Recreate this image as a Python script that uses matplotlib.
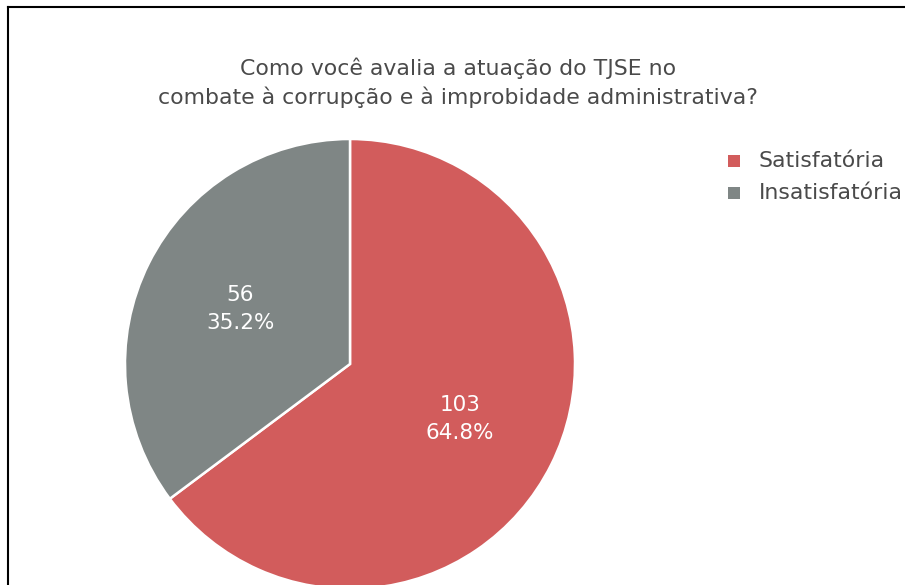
import matplotlib
matplotlib.use("Agg")
import matplotlib.pyplot as plt
from matplotlib.patches import Rectangle
from matplotlib.lines import Line2D

plt.rcParams['font.family'] = ['DejaVu Sans']

categories = ["Satisfatória", "Insatisfatória"]
counts = [103, 56]
colors = ["#d25c5c", "#7f8685"]
title = "Como você avalia a atuação do TJSE no\ncombate à corrupção e à improbidade administrativa?"

W, H = 905, 585
fig = plt.figure(figsize=(W / 100, H / 100), dpi=100)
fig.patch.set_facecolor("white")

# frame lines (top and left)
fig.add_artist(Line2D([8 / W, 1.0], [1 - 7 / H, 1 - 7 / H], color="black", lw=1.5, transform=fig.transFigure))
fig.add_artist(Line2D([8 / W, 8 / W], [0, 1 - 7 / H], color="black", lw=1.5, transform=fig.transFigure))

cx, cy, r = 350, 364, 225
ax = fig.add_axes([(cx - r) / W, (H - cy - r) / H, 2 * r / W, 2 * r / H])
total = sum(counts)
wedges, texts, autotexts = ax.pie(
    counts, colors=colors, startangle=90, counterclock=False, radius=1,
    wedgeprops=dict(edgecolor="white", linewidth=1.8),
    autopct=lambda p: f"{round(p * total / 100)}\n{p:.1f}%",
    pctdistance=0.545,
    textprops=dict(color="white", fontsize=15.5, linespacing=1.5),
)
for t in autotexts:
    t.set_ha("center")
    t.set_va("center")
ax.set_xlim(-1, 1)
ax.set_ylim(-1, 1)
ax.set_aspect("equal")
ax.axis("off")

fig.text(458 / W, 1 - 83 / H, title, ha="center", va="center", fontsize=15.8,
         color="#4a4a4a", linespacing=1.42)

# legend
for i, (lab, col) in enumerate(zip(categories, colors)):
    y = 161 + i * 32
    fig.add_artist(Rectangle((728 / W, 1 - (y + 6) / H), 12 / W, 12 / H, facecolor=col,
                             edgecolor="none", transform=fig.transFigure))
    fig.text(759 / W, 1 - y / H, lab, ha="left", va="center", fontsize=15.8, color="#4a4a4a")

fig.savefig("out.png", dpi=100)
